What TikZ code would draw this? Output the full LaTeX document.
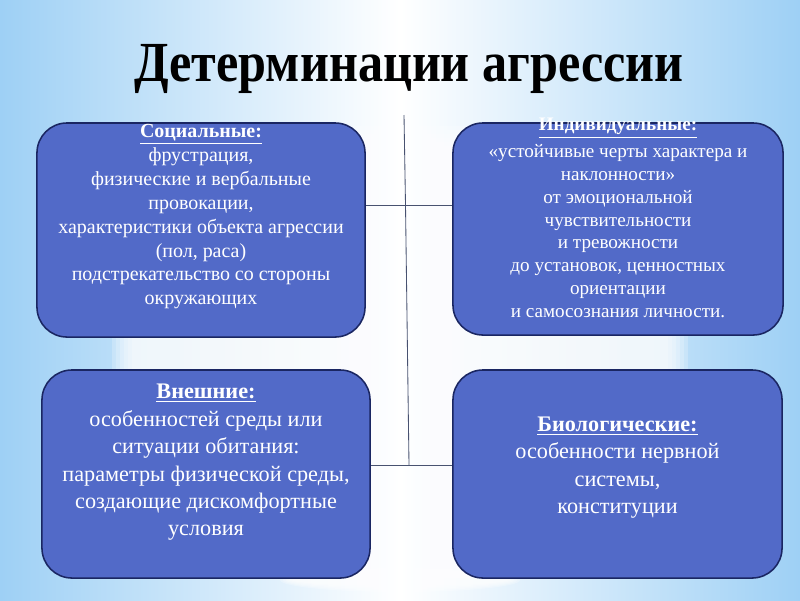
\documentclass[tikz,border=0pt]{standalone}
\usepackage{fontspec}
\setmainfont{Liberation Serif}
\usetikzlibrary{positioning}
\definecolor{bgblue}{RGB}{158,208,245}
\definecolor{boxfill}{RGB}{82,106,200}
\definecolor{boxline}{RGB}{26,38,98}
\definecolor{linkgray}{RGB}{72,82,112}
\tikzset{
	factor/.style={draw=boxline, line width=1.1pt, fill=boxfill, rounded corners=0.75cm, inner sep=0pt},
	factortext/.style={text=white, align=center, inner sep=0pt, anchor=north},
	link/.style={draw=linkgray, line width=0.6pt},
	heading/.style={font=\fontsize{38}{40}\selectfont\bfseries, anchor=base}
}
\newcommand{\factorhead}[1]{\underline{\textbf{#1}}}

\begin{document}
\begin{tikzpicture}[x=0.025cm,y=-0.025cm]
				\useasboundingbox (0,0) rectangle (800,600);
				
				%background
				\fill[left color=bgblue, right color=bgblue, middle color=white] (0,0) rectangle (800,600);
				\foreach \d in {0,4,...,20}
					\fill[white, opacity=0.22] (112+\d,126+\d) rectangle (688-\d,578);
				\foreach \d in {0,3,...,12}
					\fill[white, opacity=0.25] (400,580) ellipse ({120-\d} and {12-\d/2});
				
				\node[heading] (title) at (409,81) {\scalebox{0.94}[1.06]{Детерминации агрессии}};
				
				%the four boxes
				\node[factor, minimum width=8.2cm, minimum height=5.35cm] (soc) at (201,230) {};
				\node[factor, minimum width=8.25cm, minimum height=5.3cm] (ind) at (618,229) {};
				\node[factor, minimum width=8.2cm, minimum height=5.2cm] (ext) at (206,474) {};
				\node[factor, minimum width=8.225cm, minimum height=5.2cm] (bio) at (617.5,474) {};
				
				%connecting lines
				\coordinate (top) at (404,115);
				\coordinate (upper) at (405.5,205);
				\coordinate (lower) at (409,465);
				\draw[link] (top) -- (upper) -- (lower);
				\draw[link] (soc.east |- upper) -- (ind.west |- upper);
				\draw[link] (ext.east |- lower) -- (bio.west |- lower);
				
				\node[factortext, font=\fontsize{14.2}{17}\selectfont] (soctext) at (201,124) {\factorhead{Социальные:}\\
					фрустрация,\\ физические и вербальные\\ провокации,\\ характеристики объекта агрессии\\ (пол, раса)\\ подстрекательство со стороны\\ окружающих};
				\node[factortext, font=\fontsize{13.6}{16.2}\selectfont] (indtext) at (618,118) {\factorhead{Индивидуальные:}\\[3pt]
					«устойчивые черты характера и\\ наклонности»\\ от эмоциональной\\ чувствительности\\ и тревожности\\ до установок, ценностных\\ ориентации\\ и самосознания личности.};
				\node[factortext, font=\fontsize{15.8}{19.5}\selectfont] (exttext) at (206,384) {\factorhead{Внешние:}\\
					особенностей среды или\\ ситуации обитания:\\ параметры физической среды,\\ создающие дискомфортные\\ условия};
				\node[factortext, font=\fontsize{15.8}{19.3}\selectfont] (biotext) at (617.5,417) {\factorhead{Биологические:}\\
					особенности нервной\\ системы,\\ конституции};
\end{tikzpicture}
\end{document}
